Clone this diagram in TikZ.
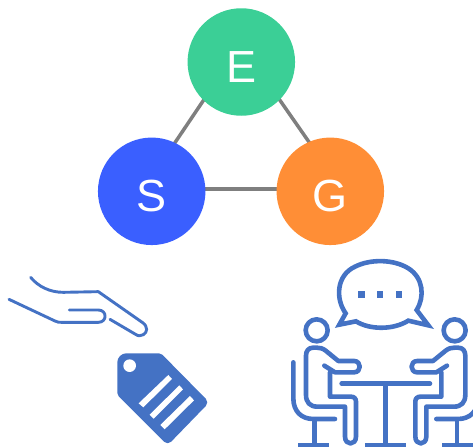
\documentclass[tikz,border=0pt]{standalone}
\usepackage{fontspec}
\setmainfont{Liberation Sans}
\usetikzlibrary{backgrounds}
\definecolor{icon}{HTML}{4472C4}
\definecolor{eco}{HTML}{3BCF96}
\definecolor{soc}{HTML}{3A5FFF}
\definecolor{gov}{HTML}{FF8E36}
\definecolor{edge}{HTML}{7F7F7F}
\tikzset{
  pillar/.style={circle,inner sep=0pt,minimum size=107.5pt,text=white,
    font=\fontsize{45}{45}\selectfont,text height=41pt,text depth=0pt},
  link/.style={draw=edge,line width=3.5pt},
  zoomed/.style={x=0.3333pt,y=-0.3333pt},
  iconline/.style={draw=icon,line width=#1,line cap=round,line join=round},
  iconline/.default=4.6pt
}
\begin{document}
\begin{tikzpicture}[x=1pt,y=-1pt]
\useasboundingbox (0,0) rectangle (473,447);
\clip (0,0) rectangle (473,447);
\node[pillar,fill=eco] (E) at (241.3,62) {E};
\node[pillar,fill=soc] (S) at (151.7,191.3) {S};
\node[pillar,fill=gov] (G) at (330.3,191.3) {G};
\begin{scope}[on background layer]
\draw[link] ([xshift=-12pt]E.center) -- ([xshift=-9.5pt]S.center);
\draw[link] ([xshift=12pt]E.center) -- ([xshift=13pt]G.center);
\draw[link] ([yshift=2.3pt]S.center) -- ([yshift=2.3pt]G.center);
\end{scope}
% hand
\begin{scope}[shift={(0,260)},zoomed]
\draw[iconline=2.9pt] (92,52) .. controls (115,80) and (150,97) .. (190,97) -- (295,95)
  -- (428,188) .. controls (445,200) and (442,218) .. (430,224)
  .. controls (422,230) and (414,228) .. (405,222) -- (330,178);
\draw[iconline=2.9pt] (27,118) -- (165,183) .. controls (172,187) and (178,187) .. (185,187) -- (295,187)
  .. controls (322,187) and (322,150) .. (295,150) -- (208,150);
% tag
\fill[icon]
  (430,280) [rounded corners=2pt] -- (483,280) [rounded corners=5pt] -- (628,427)
  -- (503,556) [rounded corners=2pt] -- (352,405) [rounded corners=9pt] -- (352,280) -- cycle;
\fill[white] (389,317) circle[radius=19];
\fill[white] (505,345) -- (516,357) -- (430,442) -- (416,430) -- cycle;
\fill[white] (538,376) -- (549,388) -- (461,476) -- (449,464) -- cycle;
\fill[white] (570,408) -- (582,421) -- (494,508) -- (481,495) -- cycle;
\end{scope}
% meeting
\begin{scope}[shift={(280,255)},zoomed]
\draw[iconline,line cap=butt,line join=miter]
  (197,175) .. controls (165,130) and (170,60) .. (225,35)
  .. controls (270,12) and (340,12) .. (385,40)
  .. controls (430,68) and (435,125) .. (410,165)
  -- (445,211) -- (385,197)
  .. controls (340,225) and (270,225) .. (228,199)
  -- (178,209) -- cycle;
\fill[icon] (235,109) rectangle (254,128);
\fill[icon] (291,109) rectangle (310,128);
\fill[icon] (348,109) rectangle (367,128);
% table
\draw[iconline] (185,386) -- (450,386);
\draw[iconline,line cap=butt] (317,386) -- (317,570);
\draw[iconline,line cap=butt] (255,570) -- (378,570);
% people
\foreach \m/\o in {1/0,-1/634}{
\begin{scope}[xshift=\o*0.3333pt,x=\m*0.3333pt]
\draw[iconline] (110,226) circle[radius=33];
\draw[iconline] (133,332) -- (165,352) -- (222,352)
  .. controls (245,352) and (245,318) .. (222,318) -- (175,318) -- (137,287)
  .. controls (128,280) and (120,278) .. (110,278) -- (100,278)
  .. controls (85,278) and (78,288) .. (78,302) -- (78,420)
  .. controls (78,442) and (90,455) .. (112,455) -- (195,455) -- (195,545)
  .. controls (195,572) and (228,572) .. (228,545) -- (228,440)
  .. controls (228,430) and (222,425) .. (212,425) -- (150,425) -- (150,352);
\draw[iconline] (40,322) -- (40,430) .. controls (40,470) and (65,492) .. (100,492) -- (165,492);
\draw[iconline,line cap=butt] (103,492) -- (103,570);
\draw[iconline,line cap=butt] (55,570) -- (148,570);
\end{scope}}
\end{scope}
\end{tikzpicture}
\end{document}
